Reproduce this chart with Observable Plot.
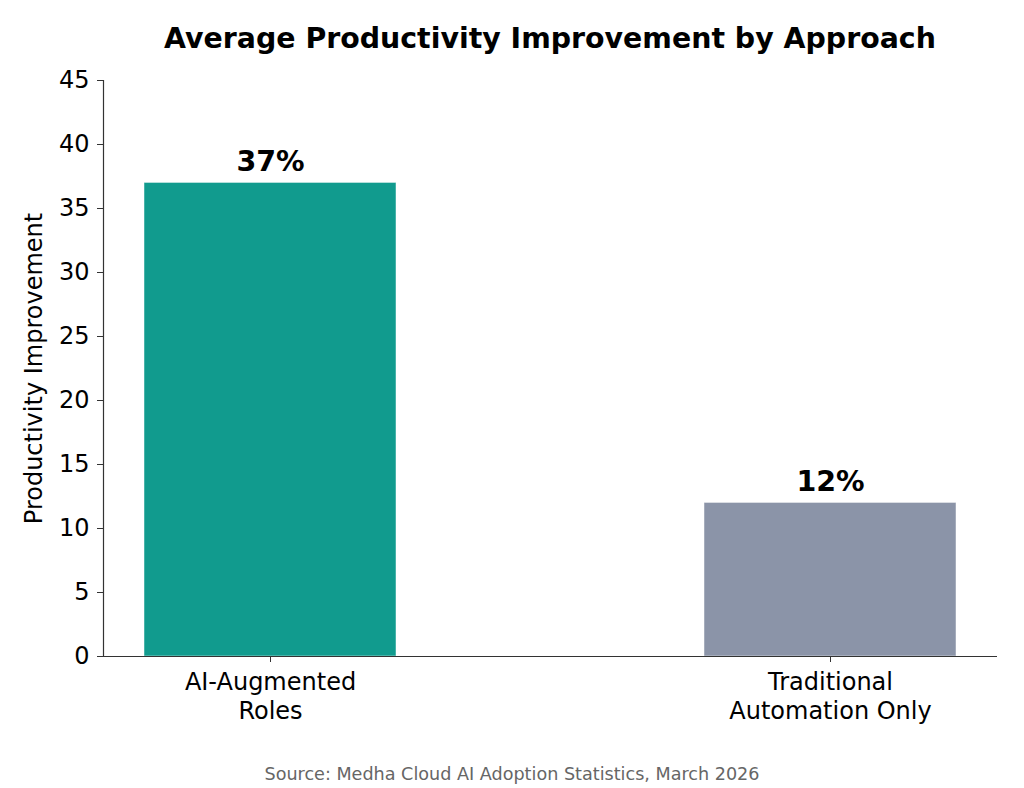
<!DOCTYPE html>
<html>
<head>
<meta charset="utf-8">
<script src="https://cdn.jsdelivr.net/npm/d3@7"></script>
<script src="https://cdn.jsdelivr.net/npm/@observablehq/plot@0.6"></script>
<style>
  body { margin: 0; background: #fff; font-family: "DejaVu Sans", sans-serif; }
  #wrap { position: relative; width: 1024px; height: 788px; }
  #title { position: absolute; left: 103px; width: 894px; top: 19px; text-align: center;
           font-weight: bold; font-size: 28.4px; color: #000; line-height: 40px; }
  #caption { position: absolute; left: 0; width: 1024px; top: 762px; text-align: center;
             font-size: 17.6px; color: #666; line-height: 24px; }
  #chart { position: absolute; left: 0; top: 0; }
</style>
</head>
<body>
<div id="wrap">
  <div id="chart"></div>
  <div id="title">Average Productivity Improvement by Approach</div>
  <div id="caption">Source: Medha Cloud AI Adoption Statistics, March 2026</div>
</div>
<script>
const categories = ["AI-Augmented Roles", "Traditional Automation Only"];
const values = [37, 12];
const tickLabels = ["AI-Augmented\nRoles", "Traditional\nAutomation Only"];
const valueLabels = ["37%", "12%"];
const colors = ["#119b8e", "#8b94a8"];
const yTicks = [0, 5, 10, 15, 20, 25, 30, 35, 40, 45];

const data = categories.map((c, i) => ({category: c, value: values[i], label: valueLabels[i], color: colors[i]}));

const chart = Plot.plot({
  width: 1024,
  height: 788,
  marginLeft: 103,
  marginRight: 27,
  marginTop: 80,
  marginBottom: 132,
  style: {fontFamily: "DejaVu Sans, sans-serif", fontSize: "24px", color: "#000", background: "white"},
  x: {domain: categories, paddingInner: 0.55, paddingOuter: 0.0725},
  y: {domain: [0, 45]},
  marks: [
    Plot.barY(data, {x: "category", y: "value", fill: "color", stroke: "white", strokeWidth: 0.8, strokeOpacity: 0.6}),
    Plot.text(data, {x: "category", y: "value", text: "label", lineAnchor: "bottom", dy: -12,
                     fontWeight: "bold", fontSize: 28.5, fill: "#000"}),
    Plot.axisY({ticks: yTicks, tickSize: 6, tickPadding: 8, stroke: "#333", fontSize: 24, fill: "#000",
                label: "Productivity Improvement", labelAnchor: "center", labelArrow: "none", labelOffset: 79}),
    Plot.frame({anchor: "left", stroke: "#333", strokeWidth: 1.2}),
    Plot.axisX({tickSize: 6, tickPadding: 8, stroke: "#333", fontSize: 24, fill: "#000",
                tickFormat: (d) => tickLabels[categories.indexOf(d)], lineHeight: 1.17, label: null}),
    Plot.ruleY([0], {stroke: "#333", strokeWidth: 1.2})
  ]
});
document.getElementById("chart").appendChild(chart);
</script>
</body>
</html>
